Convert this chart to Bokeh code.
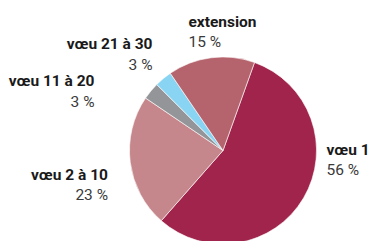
import numpy as np
from bokeh.plotting import figure
from bokeh.models import Range1d, ColumnDataSource
from bokeh.core.properties import value
from bokeh.embed import file_html
from bokeh.resources import INLINE

categories = ["vœu 1", "vœu 2 à 10", "vœu 11 à 20", "vœu 21 à 30", "extension"]
shares = [56, 23, 3, 3, 15]
value_labels = ["56 %", "23 %", "3 %", "3 %", "15 %"]
colors = ["#A0244B", "#C5878B", "#939598", "#88D4F2", "#B5646D"]

W, H = 369, 241
p = figure(width=W, height=H, output_backend="svg", toolbar_location=None,
           x_range=Range1d(0, W), y_range=Range1d(-H, 0),
           min_border=0)
p.axis.visible = False
p.grid.visible = False
p.outline_line_color = None
p.background_fill_color = "white"
p.border_fill_color = "white"

cx, cy, r = 222.5, -150.0, 93.5
offset = 19.7  # degrees clockwise from top where first slice starts
fr = np.array(shares, dtype=float) / sum(shares)
cum = np.concatenate([[0], np.cumsum(fr)]) * 360.0
start = np.radians(90 - offset - cum[:-1])
end = np.radians(90 - offset - cum[1:])

src = ColumnDataSource(dict(start=start, end=end, color=colors))
p.wedge(x=cx, y=cy, radius=r, start_angle="start", end_angle="end",
        direction="clock", fill_color="color", line_color="white",
        line_width=0.6, source=src)

# label anchor positions (page pixels) and alignment
lab_x = [326, 107.5, 94, 152, 188]
lab_y = [149, 174, 80.5, 43.5, 21]
aligns = ["left", "right", "right", "right", "left"]
font = value("Roboto")
p.text(x=lab_x, y=[-v for v in lab_y], text=categories, text_align=aligns,
       text_baseline="alphabetic", text_font=font,
       text_font_style="bold", text_font_size="15.5px", text_color="#1A1A1A")
p.text(x=lab_x, y=[-(v + 20.5) for v in lab_y], text=value_labels, text_align=aligns,
       text_baseline="alphabetic", text_font=font,
       text_font_size="15.5px", text_color="#3A3A3A")

open("out.html", "w").write(file_html(p, INLINE))
